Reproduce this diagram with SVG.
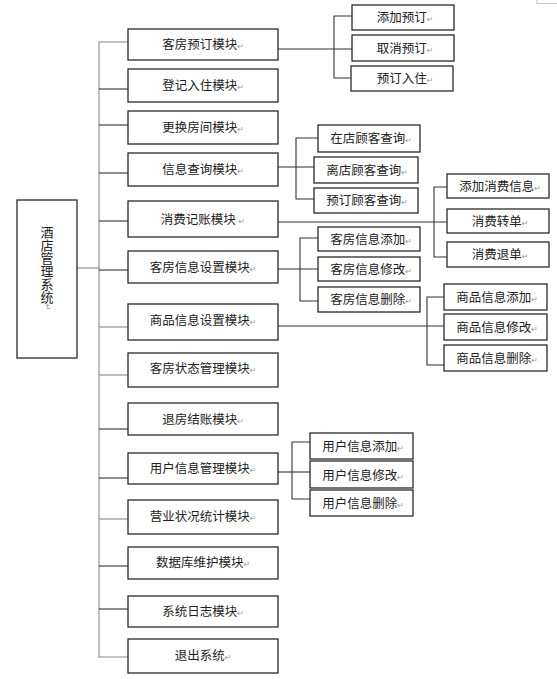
<svg xmlns="http://www.w3.org/2000/svg" width="557" height="679" viewBox="0 0 557 679">
<style>
  .box { fill: #ffffff; stroke: #2a2a2a; stroke-width: 1.3; }
  .t { font-family: "Noto Sans CJK SC", "Noto Sans", sans-serif; font-size: 12.5px; fill: #222; text-anchor: middle; }
  .r { font-family: "DejaVu Sans", sans-serif; font-size: 8px; fill: #999; }
  .ln { fill: none; stroke: #333; stroke-width: 1.1; }
  .lg { fill: none; stroke: #8a8a8a; stroke-width: 1.1; }
  .vt { font-family: "Noto Sans CJK SC", "Noto Sans", sans-serif; font-size: 13px; fill: #222; writing-mode: vertical-rl; }
</style>
<rect width="557" height="679" fill="#ffffff"/>
<polyline points="537,0 537,3.5 557,3.5" fill="none" stroke="#c8c8c8" stroke-width="1.2"/>

<g id="connectors">
  <line class="lg" x1="77" y1="268" x2="99" y2="268"/>
  <polyline class="lg" points="128,42 99,42 99,657 128,657"/>
  <line class="ln" x1="99" y1="89" x2="128" y2="89"/>
  <line class="ln" x1="99" y1="125" x2="128" y2="125"/>
  <line class="ln" x1="99" y1="173" x2="128" y2="173"/>
  <line class="ln" x1="99" y1="221" x2="128" y2="221"/>
  <line class="ln" x1="99" y1="270" x2="128" y2="270"/>
  <line class="lg" x1="99" y1="327" x2="128" y2="327"/>
  <line class="lg" x1="99" y1="375" x2="128" y2="375"/>
  <line class="ln" x1="99" y1="429" x2="128" y2="429"/>
  <line class="ln" x1="99" y1="478" x2="128" y2="478"/>
  <line class="lg" x1="99" y1="519" x2="128" y2="519"/>
  <line class="ln" x1="99" y1="566" x2="128" y2="566"/>
  <line class="ln" x1="99" y1="609" x2="128" y2="609"/>

  <line class="ln" x1="278" y1="49" x2="352" y2="49"/>
  <polyline class="ln" points="352,16 334,16 334,78 352,78"/>

  <line class="ln" x1="278" y1="167" x2="314" y2="167"/>
  <polyline class="ln" points="318,138 296,138 296,199 314,199"/>

  <line class="ln" x1="278" y1="222" x2="447" y2="222"/>
  <polyline class="ln" points="447,187 434,187 434,257 447,257"/>

  <line class="ln" x1="278" y1="269" x2="318" y2="269"/>
  <polyline class="ln" points="318,238 300,238 300,301 318,301"/>

  <line class="ln" x1="278" y1="326" x2="444" y2="326"/>
  <polyline class="ln" points="444,297 427,297 427,365 444,365"/>

  <line class="ln" x1="278" y1="472" x2="310" y2="472"/>
  <polyline class="ln" points="310,442 292,442 292,499 310,499"/>
</g>

<g id="root">
  <rect class="box" x="17" y="200" width="60" height="158"/>
  <text class="vt" x="47" y="226">酒店管理系统<tspan class="r">↵</tspan></text>
</g>

<g id="m1"><rect class="box" x="128" y="29" width="150" height="31"/><text class="t" x="203" y="49">客房预订模块<tspan class="r">↵</tspan></text></g>
<g id="m2"><rect class="box" x="128" y="69" width="150" height="33"/><text class="t" x="203" y="90">登记入住模块<tspan class="r">↵</tspan></text></g>
<g id="m3"><rect class="box" x="128" y="111" width="150" height="33"/><text class="t" x="203" y="132">更换房间模块<tspan class="r">↵</tspan></text></g>
<g id="m4"><rect class="box" x="128" y="153" width="150" height="33"/><text class="t" x="203" y="174">信息查询模块<tspan class="r">↵</tspan></text></g>
<g id="m5"><rect class="box" x="128" y="201" width="150" height="36"/><text class="t" x="203" y="224">消费记账模块 <tspan class="r">↵</tspan></text></g>
<g id="m6"><rect class="box" x="128" y="251" width="150" height="32"/><text class="t" x="203" y="272">客房信息设置模块<tspan class="r">↵</tspan></text></g>
<g id="m7"><rect class="box" x="128" y="304" width="150" height="36"/><text class="t" x="203" y="325">商品信息设置模块<tspan class="r">↵</tspan></text></g>
<g id="m8"><rect class="box" x="128" y="353" width="150" height="34"/><text class="t" x="203" y="373">客房状态管理模块<tspan class="r">↵</tspan></text></g>
<g id="m9"><rect class="box" x="128" y="403" width="150" height="32"/><text class="t" x="203" y="424">退房结账模块<tspan class="r">↵</tspan></text></g>
<g id="m10"><rect class="box" x="128" y="453" width="150" height="31"/><text class="t" x="203" y="473">用户信息管理模块<tspan class="r">↵</tspan></text></g>
<g id="m11"><rect class="box" x="128" y="500" width="150" height="34"/><text class="t" x="203" y="521">营业状况统计模块<tspan class="r">↵</tspan></text></g>
<g id="m12"><rect class="box" x="128" y="547" width="150" height="32"/><text class="t" x="203" y="567">数据库维护模块<tspan class="r">↵</tspan></text></g>
<g id="m13"><rect class="box" x="128" y="596" width="150" height="31"/><text class="t" x="203" y="616">系统日志模块<tspan class="r">↵</tspan></text></g>
<g id="m14"><rect class="box" x="128" y="639" width="150" height="34"/><text class="t" x="203" y="660">退出系统<tspan class="r">↵</tspan></text></g>

<g id="s1a"><rect class="box" x="352" y="5" width="102" height="25"/><text class="t" x="405" y="22">添加预订<tspan class="r">↵</tspan></text></g>
<g id="s1b"><rect class="box" x="352" y="35" width="102" height="26"/><text class="t" x="405" y="53">取消预订<tspan class="r">↵</tspan></text></g>
<g id="s1c"><rect class="box" x="351" y="66" width="102" height="25"/><text class="t" x="405" y="83">预订入住<tspan class="r">↵</tspan></text></g>

<g id="s4a"><rect class="box" x="318" y="125" width="102" height="27"/><text class="t" x="371" y="143">在店顾客查询<tspan class="r">↵</tspan></text></g>
<g id="s4b"><rect class="box" x="314" y="157" width="104" height="26"/><text class="t" x="367" y="175">离店顾客查询<tspan class="r">↵</tspan></text></g>
<g id="s4c"><rect class="box" x="314" y="188" width="104" height="25"/><text class="t" x="367" y="205">预订顾客查询<tspan class="r">↵</tspan></text></g>

<g id="s5a"><rect class="box" x="447" y="174" width="102" height="24"/><text class="t" x="500" y="191">添加消费信息<tspan class="r">↵</tspan></text></g>
<g id="s5b"><rect class="box" x="447" y="209" width="102" height="24"/><text class="t" x="500" y="226">消费转单<tspan class="r">↵</tspan></text></g>
<g id="s5c"><rect class="box" x="447" y="242" width="102" height="25"/><text class="t" x="500" y="259">消费退单<tspan class="r">↵</tspan></text></g>

<g id="s6a"><rect class="box" x="318" y="227" width="102" height="24"/><text class="t" x="371" y="244">客房信息添加<tspan class="r">↵</tspan></text></g>
<g id="s6b"><rect class="box" x="318" y="257" width="102" height="24"/><text class="t" x="371" y="274">客房信息修改<tspan class="r">↵</tspan></text></g>
<g id="s6c"><rect class="box" x="318" y="287" width="102" height="25"/><text class="t" x="371" y="304">客房信息删除<tspan class="r">↵</tspan></text></g>

<g id="s7a"><rect class="box" x="444" y="284" width="103" height="26"/><text class="t" x="497" y="302">商品信息添加<tspan class="r">↵</tspan></text></g>
<g id="s7b"><rect class="box" x="444" y="314" width="103" height="26"/><text class="t" x="497" y="332">商品信息修改<tspan class="r">↵</tspan></text></g>
<g id="s7c"><rect class="box" x="444" y="345" width="103" height="26"/><text class="t" x="497" y="363">商品信息删除<tspan class="r">↵</tspan></text></g>

<g id="s10a"><rect class="box" x="310" y="433" width="103" height="26"/><text class="t" x="363" y="451">用户信息添加<tspan class="r">↵</tspan></text></g>
<g id="s10b"><rect class="box" x="310" y="461" width="103" height="27"/><text class="t" x="363" y="480">用户信息修改<tspan class="r">↵</tspan></text></g>
<g id="s10c"><rect class="box" x="310" y="490" width="103" height="26"/><text class="t" x="363" y="508">用户信息删除<tspan class="r">↵</tspan></text></g>
</svg>
